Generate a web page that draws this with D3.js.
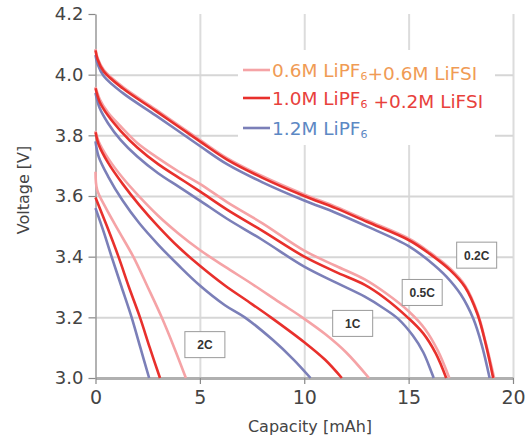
<!DOCTYPE html>
<html><head><meta charset="utf-8">
<script src="https://cdn.jsdelivr.net/npm/d3@7"></script>
<style>
html,body{margin:0;padding:0;background:#fff;}
svg{display:block;}
</style></head>
<body><svg id="chart" width="530" height="437"></svg>
<script>
// ---- data (capacity mAh, voltage V) ----
const xTicks = [0, 5, 10, 15, 20];
const yTicks = [3.0, 3.2, 3.4, 3.6, 3.8, 4.0, 4.2];
const rates = ["0.2C", "0.5C", "1C", "2C"];
const rateLabelPos = [[18.26, 3.405], [15.65, 3.282], [12.32, 3.18], [5.24, 3.11]];

// 0.6M LiPF6 + 0.6M LiFSI
const mix06_02C = [[0,4.085],[0.1,4.055],[0.4,4.015],[1.3,3.96],[2.9,3.885],[5,3.785],[6.3,3.725],[8,3.665],[10,3.605],[11.5,3.565],[13,3.52],[15,3.46],[16,3.415],[17,3.36],[17.7,3.305],[18.3,3.215],[18.7,3.115],[19.1,3.0]];
const mix06_05C = [[0,3.96],[0.2,3.92],[0.6,3.875],[1.2,3.83],[2,3.775],[3,3.725],[4,3.68],[5,3.64],[6.3,3.58],[8,3.51],[10,3.42],[11.5,3.37],[12.9,3.325],[13.9,3.28],[15,3.22],[15.8,3.16],[16.4,3.09],[16.95,3.0]];
const mix06_1C = [[0,3.815],[0.15,3.78],[0.6,3.725],[1.3,3.66],[2.1,3.598],[3,3.535],[4,3.475],[5,3.422],[6.2,3.367],[7.5,3.31],[8.8,3.25],[9.9,3.2],[11,3.145],[12,3.085],[13.1,3.0]];
const mix06_2C = [[0,3.68],[0.08,3.62],[0.5,3.56],[1.15,3.48],[1.81,3.4],[2.5,3.3],[3.17,3.2],[3.77,3.1],[4.33,3.0]];

// 1.0M LiPF6 + 0.2M LiFSI
const mix10_02C = [[0,4.08],[0.1,4.05],[0.4,4.01],[1.3,3.955],[2.9,3.88],[5,3.78],[6.3,3.72],[8,3.66],[10,3.6],[11.5,3.56],[13,3.515],[15,3.455],[16,3.41],[17,3.355],[17.7,3.3],[18.3,3.21],[18.7,3.11],[19.05,3.0]];
const mix10_05C = [[0,3.955],[0.2,3.91],[0.6,3.865],[1.2,3.815],[2,3.76],[3,3.705],[4,3.66],[5,3.615],[6.3,3.555],[8,3.485],[10,3.4],[11.5,3.35],[12.9,3.307],[13.85,3.264],[14.95,3.2],[15.7,3.147],[16.3,3.081],[16.8,3.0]];
const mix10_1C = [[0,3.81],[0.15,3.77],[0.6,3.71],[1.3,3.64],[2.1,3.57],[3,3.5],[4,3.43],[5,3.37],[6.2,3.305],[7.3,3.253],[8.4,3.2],[10,3.118],[11,3.06],[11.8,3.0]];
const mix10_2C = [[0,3.595],[0.55,3.5],[1.1,3.4],[1.6,3.3],[2.13,3.2],[2.6,3.1],[3.09,3.0]];

// 1.2M LiPF6
const base12_02C = [[0,4.065],[0.1,4.035],[0.4,3.995],[1.3,3.94],[2.9,3.865],[5,3.765],[6.3,3.705],[8,3.645],[10,3.585],[11.5,3.545],[13,3.5],[15,3.435],[16,3.385],[16.8,3.335],[17.5,3.275],[18.1,3.195],[18.5,3.11],[18.88,3.0]];
const base12_05C = [[0,3.94],[0.2,3.89],[0.6,3.84],[1.2,3.785],[2,3.73],[3,3.675],[4,3.63],[5,3.585],[6.3,3.525],[8,3.455],[10,3.367],[11.5,3.315],[12.9,3.268],[13.8,3.23],[14.5,3.195],[15.2,3.14],[15.7,3.085],[16.2,3.0]];
const base12_1C = [[0,3.78],[0.15,3.73],[0.6,3.665],[1.3,3.585],[2.1,3.51],[3,3.44],[4,3.37],[5,3.305],[6.2,3.24],[7.15,3.2],[8.5,3.125],[9.5,3.06],[10.3,3.0]];
const base12_2C = [[0,3.56],[0.4,3.48],[0.77,3.4],[1.25,3.3],[1.73,3.2],[2.15,3.1],[2.57,3.0]];

const seriesNames = ["0.6M LiPF6+0.6M LiFSI", "1.0M LiPF6 +0.2M LiFSI", "1.2M LiPF6"];
const seriesCurves = [
  [mix06_02C, mix06_05C, mix06_1C, mix06_2C],
  [mix10_02C, mix10_05C, mix10_1C, mix10_2C],
  [base12_02C, base12_05C, base12_1C, base12_2C]
];
const lineColors = ["#f5a3a6", "#e8302c", "#7b7fb8"];
const textColors = ["#f09b55", "#e8413c", "#5c88c4"];
const drawOrder = [0, 2, 1];

// ---- layout ----
const svg = d3.select("#chart");
const x = d3.scaleLinear().domain([0, 20]).range([95.5, 513]);
const y = d3.scaleLinear().domain([3.0, 4.2]).range([378, 14]);
const FONT = "'DejaVu Sans', sans-serif";

// grid
const gx = svg.append("g").attr("transform", "translate(0,378)")
  .call(d3.axisBottom(x).tickValues(xTicks.slice(1)).tickSize(-364).tickFormat(""));
gx.select(".domain").remove();
gx.selectAll("line").attr("stroke", "#dcdcdc").attr("stroke-width", 2);
const gy = svg.append("g").attr("transform", "translate(95.5,0)")
  .call(d3.axisLeft(y).tickValues(yTicks.slice(1, -1)).tickSize(-417.5).tickFormat(""));
gy.select(".domain").remove();
gy.selectAll("line").attr("stroke", "#d6d6d6").attr("stroke-width", 2);

// legend background
svg.append("rect").attr("x", 238).attr("y", 50).attr("width", 257).attr("height", 95).attr("fill", "#fff");

// axes
const xAxis = svg.append("g").attr("transform", "translate(0,378)")
  .call(d3.axisBottom(x).tickValues(xTicks).tickSize(6).tickSizeOuter(0).tickPadding(7).tickFormat(d3.format("d")));
xAxis.select(".domain").attr("stroke", "#b0b0b0").attr("stroke-width", 3);
xAxis.selectAll(".tick line").attr("stroke", "#888").attr("stroke-width", 1.2);
xAxis.selectAll("text").attr("font-family", FONT).attr("font-size", 19).attr("fill", "#444");

const yAxis = svg.append("g").attr("transform", "translate(95.5,0)")
  .call(d3.axisLeft(y).tickValues(yTicks).tickSize(7).tickSizeOuter(0).tickPadding(5).tickFormat(d3.format(".1f")));
yAxis.select(".domain").attr("stroke", "#999").attr("stroke-width", 1.5);
yAxis.selectAll(".tick line").attr("stroke", "#888").attr("stroke-width", 1.2);
yAxis.selectAll("text").attr("font-family", FONT).attr("font-size", 18).attr("fill", "#444");

// axis titles
svg.append("text").attr("x", 310).attr("y", 432).attr("text-anchor", "middle")
  .attr("font-family", FONT).attr("font-size", 16).attr("fill", "#444").text("Capacity [mAh]");
svg.append("text").attr("transform", "translate(29,190) rotate(-90)").attr("text-anchor", "middle")
  .attr("font-family", FONT).attr("font-size", 16).attr("fill", "#444").text("Voltage [V]");

// curves
const line = d3.line().x(d => x(d[0])).y(d => y(d[1])).curve(d3.curveCatmullRom.alpha(0.5));
const plot = svg.append("g");
drawOrder.forEach(si => {
  seriesCurves[si].forEach(c => {
    plot.append("path").attr("d", line(c)).attr("fill", "none")
      .attr("stroke", lineColors[si]).attr("stroke-width", 2.6).attr("stroke-linejoin", "round");
  });
});

// rate labels
rates.forEach((r, i) => {
  const cx = x(rateLabelPos[i][0]), cy = y(rateLabelPos[i][1]);
  svg.append("rect").attr("x", cx - 20).attr("y", cy - 13).attr("width", 40).attr("height", 26)
    .attr("fill", "#fff").attr("stroke", "#9a9a9a").attr("stroke-width", 1);
  svg.append("text").attr("x", cx).attr("y", cy + 4.5).attr("text-anchor", "middle")
    .attr("font-family", "'Liberation Sans', Arial, sans-serif").attr("font-weight", "bold")
    .attr("font-size", 12).attr("fill", "#333").text(r);
});

// legend
const legendY = [70, 98, 128];
seriesNames.forEach((name, i) => {
  const ly = legendY[i];
  svg.append("line").attr("x1", 243).attr("x2", 270).attr("y1", ly).attr("y2", ly)
    .attr("stroke", lineColors[i]).attr("stroke-width", 2.6);
  const t = svg.append("text").attr("x", 272).attr("y", ly + 6.5)
    .attr("font-family", FONT).attr("font-size", 18.5).attr("fill", textColors[i]);
  const parts = name.split("LiPF6");
  parts.forEach((p, k) => {
    if (k > 0) {
      t.append("tspan").text("LiPF");
      t.append("tspan").attr("font-size", 11).attr("dy", 3).text("6");
      t.append("tspan").attr("dy", -3).text("");
    }
    if (p) t.append("tspan").text(p);
  });
});
</script></body></html>
